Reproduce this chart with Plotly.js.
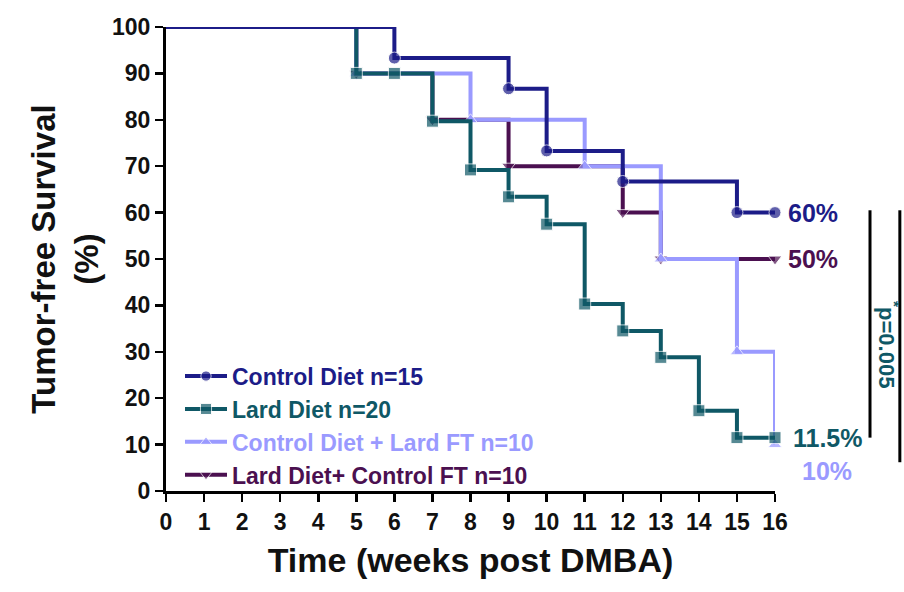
<!DOCTYPE html>
<html>
<head>
<meta charset="utf-8">
<script src="https://cdn.plot.ly/plotly-3.0.1.min.js"></script>
<style>html,body{margin:0;padding:0;background:#fff;}#chart{width:904px;height:592px;}</style>
</head>
<body>
<div id="chart"></div>
<script>
// ---- data ----
const seriesNames = ["Control Diet n=15", "Lard Diet n=20", "Control Diet + Lard FT n=10", "Lard Diet+ Control FT n=10"];
const controlTimes = [0, 6, 9, 10, 12, 15, 16];
const controlSurv  = [100, 93.3, 86.7, 73.3, 66.7, 60, 60];
const lardTimes = [0, 5, 6, 7, 8, 9, 10, 11, 12, 13, 14, 15, 16];
const lardSurv  = [100, 90, 90, 79.7, 69.2, 63.4, 57.5, 40.3, 34.5, 28.8, 17.3, 11.5, 11.5];
const cdLftTimes = [0, 5, 8, 11, 13, 15, 16];
const cdLftSurv  = [100, 90, 80, 70, 50, 30, 10];
const ldCftTimes = [0, 5, 7, 9, 12, 13, 16];
const ldCftSurv  = [100, 90, 80, 70, 60, 50, 50];
const endLabels = ["60%", "11.5%", "10%", "50%"];
const xTicks = [0,1,2,3,4,5,6,7,8,9,10,11,12,13,14,15,16];
const yTicks = [0,10,20,30,40,50,60,70,80,90,100];
const pText = "<sup>*</sup>p=0.005";

// ---- styles ----
const colors = ["#1c1c88", "#0f5866", "#9a9aff", "#4b1050"];
const symbols = ["circle", "square", "triangle-up", "triangle-down"];
const FONT = "Liberation Sans, Arial, Helvetica, sans-serif";

const sets = [
  [controlTimes, controlSurv],
  [lardTimes, lardSurv],
  [cdLftTimes, cdLftSurv],
  [ldCftTimes, ldCftSurv]
];

function mk(i) {
  const [t, s] = sets[i];
  return {
    type: "scatter", mode: "lines+markers",
    x: t, y: s,
    name: '<span style="color:' + colors[i] + '">' + seriesNames[i] + '</span>',
    legendgroup: "g" + i, legendrank: i + 1,
    line: {shape: "hv", color: colors[i], width: 4},
    marker: {symbol: symbols[i], color: colors[i], size: t.map((v, k) => k === 0 ? 0 : 12)},
    cliponaxis: false
  };
}
// drawing order (bottom -> top)
const traces = [mk(3), mk(2), mk(1), mk(0)];

const annotations = [];
// end-value labels
const labelDy = [0, 0, 26, 0];
const labelDx = [11, 16, 25, 11];
[0, 1, 2, 3].forEach(i => {
  const [t, s] = sets[i];
  annotations.push({
    x: t[t.length - 1], y: s[s.length - 1], xref: "x", yref: "y",
    text: "<b>" + endLabels[i] + "</b>", showarrow: false,
    xanchor: "left", yanchor: "middle", xshift: labelDx[i], yshift: -labelDy[i],
    font: {family: FONT, size: 25, color: colors[i]}
  });
});
annotations.push({
  x: 1.177, y: 31.5, xref: "paper", yref: "y", text: "<b>" + pText + "</b>",
  showarrow: false, textangle: 90, xshift: 22, font: {family: FONT, size: 22, color: colors[1]}
});

const shapes = [
  {type: "line", xref: "paper", yref: "y", x0: 1.156, x1: 1.156, y0: controlSurv[controlSurv.length-1] + 0.5, y1: lardSurv[lardSurv.length-1], line: {color: "#000", width: 3}},
  {type: "line", xref: "paper", yref: "y", x0: 1.205, x1: 1.205, y0: controlSurv[controlSurv.length-1] + 0.5, y1: 6.2, line: {color: "#000", width: 3}}
];

const layout = {
  width: 904, height: 592,
  margin: {l: 166, r: 129, t: 27, b: 101, pad: 0},
  paper_bgcolor: "#fff", plot_bgcolor: "#fff",
  font: {family: FONT, color: "#111"},
  showlegend: true,
  legend: {
    x: 0.023, y: 0.294, xanchor: "left", yanchor: "top",
    traceorder: "grouped", tracegroupgap: 0,
    bgcolor: "rgba(0,0,0,0)", font: {family: FONT, size: 23, weight: "bold"},
    itemwidth: 42
  },
  xaxis: {
    range: [0, 16], tickvals: xTicks, ticktext: xTicks.map(String),
    showgrid: false, zeroline: false, showline: true, linecolor: "#000", linewidth: 3,
    ticks: "outside", ticklen: 8, tickwidth: 2.5, tickcolor: "#000",
    tickfont: {family: FONT, size: 23, color: "#111", weight: "bold"},
    title: {text: "<b>Time (weeks post DMBA)</b>", font: {family: FONT, size: 34, color: "#111"}, standoff: 15}
  },
  yaxis: {
    range: [0, 100], tickvals: yTicks, ticktext: yTicks.map(String),
    showgrid: false, zeroline: false, showline: true, linecolor: "#000", linewidth: 3,
    ticks: "outside", ticklen: 8, tickwidth: 2.5, tickcolor: "#000",
    tickfont: {family: FONT, size: 23, color: "#111", weight: "bold"},
    title: {text: "<b>Tumor-free Survival<br>(%)</b>", font: {family: FONT, size: 33, color: "#111"}, standoff: 4}
  },
  annotations: annotations,
  shapes: shapes
};

Plotly.newPlot("chart", traces, layout, {displayModeBar: false, staticPlot: true});
</script>
</body>
</html>
